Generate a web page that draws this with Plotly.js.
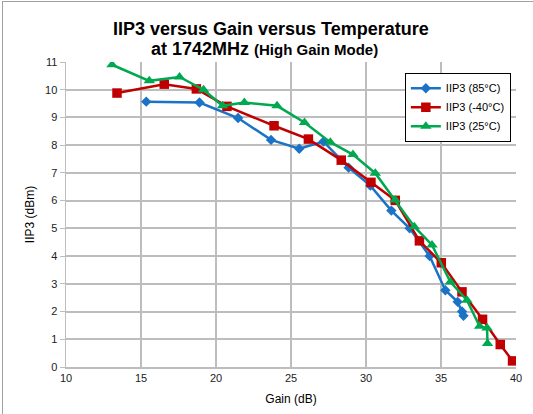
<!DOCTYPE html>
<html>
<head>
<meta charset="utf-8">
<script src="https://cdn.plot.ly/plotly-3.0.1.min.js"></script>
<style>
html,body{margin:0;padding:0;background:#fff;}
#wrap{position:relative;width:533px;height:414px;}
#chart{width:533px;height:414px;}
#frame{position:absolute;left:2px;top:1px;width:540px;height:420px;border-left:1px solid #a0a0a0;border-top:1px solid #a0a0a0;pointer-events:none;}
</style>
</head>
<body>
<div id="wrap"><div id="chart"></div><div id="frame"></div></div>
<script>
const gain85 = [15.35, 18.9, 21.47, 23.67, 25.55, 27.17, 28.84, 30.29, 31.69, 32.91, 34.24, 35.29, 36.11, 36.4, 36.5];
const iip85  = [9.57, 9.54, 8.98, 8.19, 7.87, 8.13, 7.19, 6.54, 5.64, 5.0, 4.0, 2.77, 2.35, 2.0, 1.85];

const gainM40 = [13.4, 16.55, 18.69, 20.73, 23.87, 26.16, 28.35, 30.33, 31.95, 33.56, 35.02, 36.4, 37.77, 38.95, 39.77];
const iipM40  = [9.88, 10.2, 10.03, 9.4, 8.7, 8.22, 7.46, 6.66, 6.01, 4.55, 3.76, 2.71, 1.72, 0.81, 0.22];

const gain25 = [13.07, 15.55, 17.57, 19.17, 20.44, 21.89, 24.07, 25.9, 27.62, 29.13, 30.62, 31.95, 33.22, 34.4, 35.62, 36.73, 37.57, 38.07, 38.1];
const iip25  = [10.9, 10.32, 10.46, 10.0, 9.42, 9.54, 9.42, 8.82, 8.11, 7.66, 6.99, 6.02, 5.06, 4.4, 3.07, 2.41, 1.47, 1.41, 0.85];

const seriesNames = ["IIP3 (85°C)", "IIP3 (-40°C)", "IIP3 (25°C)"];
const titleLine1 = "IIP3 versus Gain versus Temperature";
const titleLine2a = "at 1742MHz";
const titleLine2b = "(High Gain Mode)";
const xTicks = [10, 15, 20, 25, 30, 35, 40];
const yTicks = [0, 1, 2, 3, 4, 5, 6, 7, 8, 9, 10, 11];

const FONT = '"Liberation Sans", Arial, sans-serif';

const traces = [
  {x: gain85, y: iip85, name: seriesNames[0], mode: 'lines+markers',
   line: {color: '#1a73c6', width: 2.5},
   marker: {symbol: 'diamond', size: 8, color: '#1a73c6'}},
  {x: gainM40, y: iipM40, name: seriesNames[1], mode: 'lines+markers',
   line: {color: '#c00000', width: 2.5},
   marker: {symbol: 'square', size: 9.5, color: '#c00000'}},
  {x: gain25, y: iip25, name: seriesNames[2], mode: 'lines+markers',
   line: {color: '#00a84f', width: 2.5},
   marker: {symbol: 'triangle-up', size: 10, color: '#00a84f'}}
];

const layout = {
  width: 533, height: 414,
  margin: {l: 66, r: 17, t: 62, b: 47},
  paper_bgcolor: '#fff', plot_bgcolor: '#fff',
  font: {family: FONT, color: '#000'},
  annotations: [
    {text: '<b>' + titleLine1 + '</b>', xref: 'paper', yref: 'paper',
     x: (271 - 66) / 450, y: (366.7 - 29) / 304.7, xanchor: 'center', yanchor: 'middle',
     showarrow: false, font: {family: FONT, size: 18, color: '#000'}},
    {text: '<b>' + titleLine2a + ' <span style="font-size:15px">' + titleLine2b + '</span></b>',
     xref: 'paper', yref: 'paper',
     x: (264.5 - 66) / 450, y: (366.7 - 49) / 304.7, xanchor: 'center', yanchor: 'middle',
     showarrow: false, font: {family: FONT, size: 18, color: '#000'}}
  ],
  xaxis: {
    range: [10, 40], tickvals: xTicks, ticktext: xTicks.map(String),
    showgrid: true, gridcolor: '#bdbdbd', gridwidth: 2,
    showline: true, linecolor: '#bdbdbd', linewidth: 1.5,
    ticks: '', zeroline: false,
    tickfont: {family: FONT, size: 11, color: '#222'},
    title: {text: 'Gain (dB)', font: {family: FONT, size: 12, color: '#000'}, standoff: 12}
  },
  yaxis: {
    range: [0, 11], tickvals: yTicks, ticktext: yTicks.map(String),
    showgrid: true, gridcolor: '#bdbdbd', gridwidth: 2,
    showline: true, linecolor: '#bdbdbd', linewidth: 1.5,
    ticks: 'outside', ticklen: 5, tickcolor: '#bdbdbd', tickwidth: 1,
    zeroline: false,
    tickfont: {family: FONT, size: 11, color: '#222'},
    title: {text: 'IIP3 (dBm)', font: {family: FONT, size: 12, color: '#000'}, standoff: 8}
  },
  legend: {
    x: 0.753, y: 0.965, xanchor: 'left', yanchor: 'top',
    bgcolor: '#fff', bordercolor: '#000', borderwidth: 1,
    font: {family: FONT, size: 11, color: '#000'},
    tracegroupgap: 0, itemwidth: 30
  },
  showlegend: true
};

Plotly.newPlot('chart', traces, layout, {displayModeBar: false, staticPlot: true});
</script>
</body>
</html>
